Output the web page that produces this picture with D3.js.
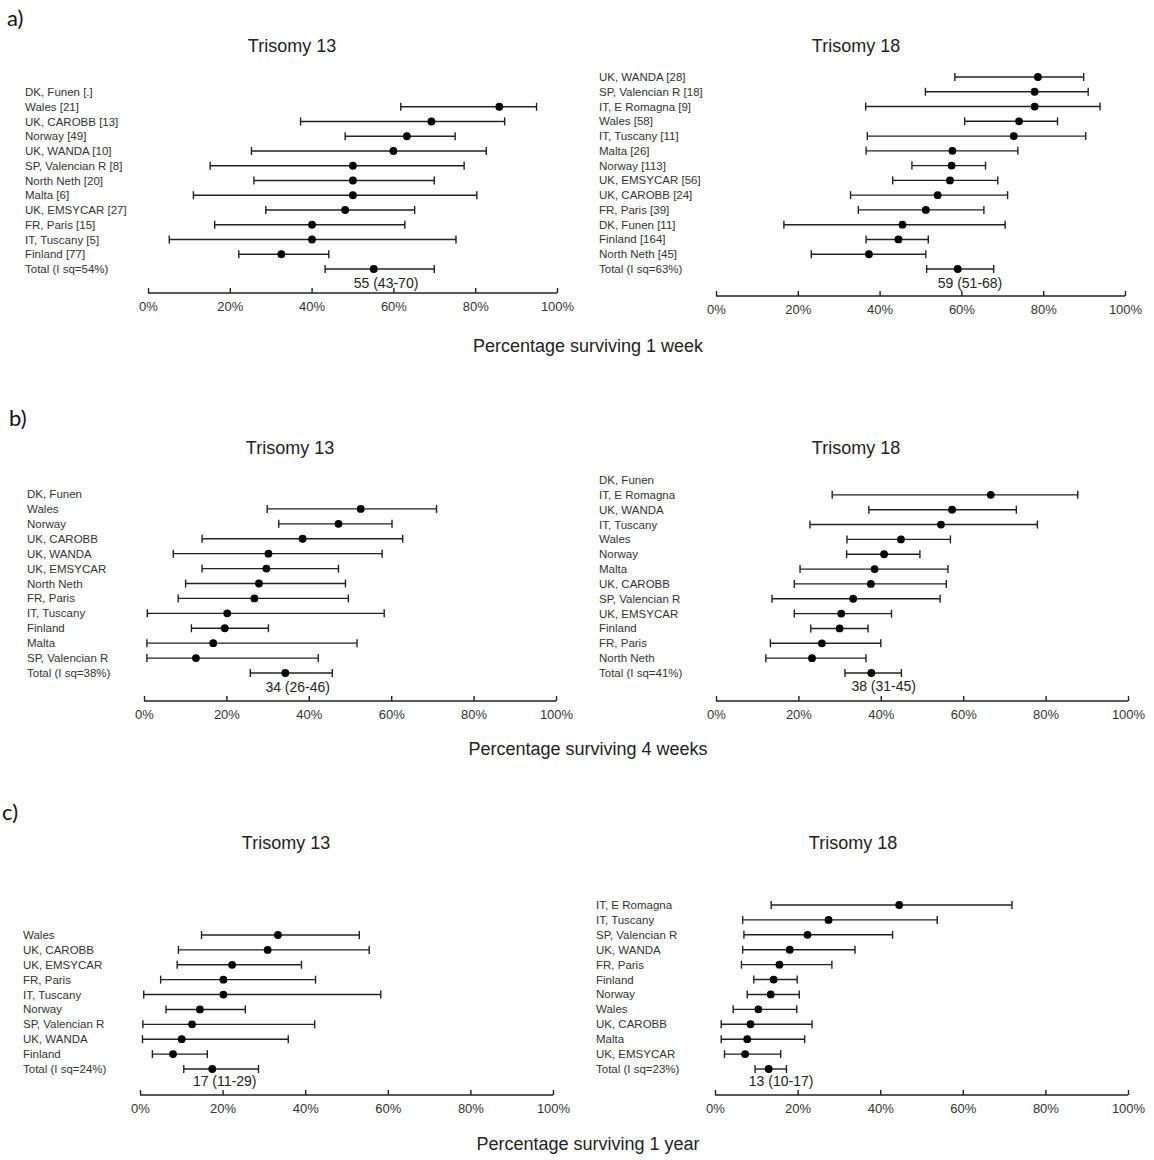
<!DOCTYPE html>
<html>
<head>
<meta charset="utf-8">
<script src="https://cdn.jsdelivr.net/npm/d3@7"></script>
<style>
  body { margin: 0; background: #fff; }
</style>
</head>
<body>
<div id="chart"></div>
<script>
// ---- data: a) surviving 1 week ----
let weekT13Labels = ['DK, Funen [.]', 'Wales [21]', 'UK, CAROBB [13]', 'Norway [49]', 'UK, WANDA [10]',
  'SP, Valencian R [8]', 'North Neth [20]', 'Malta [6]', 'UK, EMSYCAR [27]', 'FR, Paris [15]',
  'IT, Tuscany [5]', 'Finland [77]', 'Total (I sq=54%)']
let weekT13Est = [null, 85.9, 69.3, 63.3, 60.0, 50.1, 50.1, 50.1, 48.2, 40.1, 40.1, 32.6, 55.2]
let weekT13Lo = [null, 61.8, 37.3, 48.2, 25.3, 15.2, 25.9, 11.1, 28.8, 16.3, 5.2, 22.2, 43.3]
let weekT13Hi = [null, 95.0, 87.2, 75.1, 82.7, 77.3, 70.0, 80.4, 65.2, 62.8, 75.3, 44.2, 70.0]

let weekT18Labels = ['UK, WANDA [28]', 'SP, Valencian R [18]', 'IT, E Romagna [9]', 'Wales [58]',
  'IT, Tuscany [11]', 'Malta [26]', 'Norway [113]', 'UK, EMSYCAR [56]', 'UK, CAROBB [24]',
  'FR, Paris [39]', 'DK, Funen [11]', 'Finland [164]', 'North Neth [45]', 'Total (I sq=63%)']
let weekT18Est = [78.7, 77.9, 77.9, 74.1, 72.8, 57.8, 57.6, 57.2, 54.2, 51.3, 45.6, 44.6, 37.4, 59.1]
let weekT18Lo = [58.4, 51.2, 36.6, 60.8, 37.0, 36.7, 47.9, 43.2, 32.9, 34.8, 16.6, 36.7, 23.3, 51.5]
let weekT18Hi = [89.9, 91.0, 93.9, 83.5, 90.4, 73.8, 65.9, 68.9, 71.3, 65.5, 70.7, 51.9, 51.3, 67.9]

// ---- data: b) surviving 4 weeks ----
let monthT13Labels = ['DK, Funen', 'Wales', 'Norway', 'UK, CAROBB', 'UK, WANDA', 'UK, EMSYCAR',
  'North Neth', 'FR, Paris', 'IT, Tuscany', 'Finland', 'Malta', 'SP, Valencian R', 'Total (I sq=38%)']
let monthT13Est = [null, 52.6, 47.2, 38.5, 30.2, 29.7, 27.9, 26.8, 20.2, 19.6, 16.8, 12.6, 34.3]
let monthT13Lo = [null, 29.9, 32.7, 14.1, 7.1, 14.1, 10.1, 8.3, 0.8, 11.5, 0.7, 0.7, 25.8]
let monthT13Hi = [null, 71.0, 60.2, 62.8, 57.8, 47.2, 48.9, 49.6, 58.3, 30.2, 51.7, 42.3, 45.7]

let monthT18Labels = ['DK, Funen', 'IT, E Romagna', 'UK, WANDA', 'IT, Tuscany', 'Wales', 'Norway',
  'Malta', 'UK, CAROBB', 'SP, Valencian R', 'UK, EMSYCAR', 'Finland', 'FR, Paris', 'North Neth',
  'Total (I sq=41%)']
let monthT18Est = [null, 66.7, 57.3, 54.6, 44.9, 40.8, 38.5, 37.6, 33.3, 30.4, 30.0, 25.7, 23.3, 37.7]
let monthT18Lo = [null, 28.2, 37.1, 22.8, 31.8, 31.7, 20.4, 19.0, 13.6, 19.0, 23.0, 13.2, 12.1, 31.3]
let monthT18Hi = [null, 87.8, 72.9, 78.0, 56.9, 49.5, 56.3, 55.9, 54.4, 42.6, 36.9, 40.0, 36.4, 45.0]

// ---- data: c) surviving 1 year ----
let yearT13Labels = ['Wales', 'UK, CAROBB', 'UK, EMSYCAR', 'FR, Paris', 'IT, Tuscany', 'Norway',
  'SP, Valencian R', 'UK, WANDA', 'Finland', 'Total (I sq=24%)']
let yearT13Est = [33.4, 30.9, 22.3, 20.2, 20.2, 14.5, 12.6, 10.1, 8.0, 17.5]
let yearT13Lo = [14.9, 9.3, 9.0, 5.0, 0.9, 6.3, 0.7, 0.6, 3.0, 10.6]
let yearT13Hi = [53.1, 55.5, 39.1, 42.5, 58.3, 25.5, 42.3, 35.9, 16.3, 28.7]

let yearT18Labels = ['IT, E Romagna', 'IT, Tuscany', 'SP, Valencian R', 'UK, WANDA', 'FR, Paris',
  'Finland', 'Norway', 'Wales', 'UK, CAROBB', 'Malta', 'UK, EMSYCAR', 'Total (I sq=23%)']
let yearT18Est = [44.6, 27.5, 22.4, 18.1, 15.6, 14.2, 13.5, 10.5, 8.6, 7.8, 7.3, 13.0]
let yearT18Lo = [13.6, 6.7, 7.0, 6.7, 6.4, 9.4, 7.8, 4.4, 1.5, 1.5, 2.3, 9.7]
let yearT18Hi = [71.9, 53.8, 43.0, 33.9, 28.3, 19.9, 20.4, 19.8, 23.5, 21.7, 15.9, 17.3]

let totalText = ['55 (43-70)', '59 (51-68)', '34 (26-46)', '38 (31-45)', '17 (11-29)', '13 (10-17)']
let tickValues = [0, 20, 40, 60, 80, 100]

const FONT = "'Liberation Sans', Arial, Helvetica, sans-serif"

const svg = d3.select('#chart').append('svg')
  .attr('width', 1154)
  .attr('height', 1160)
  .style('font-family', FONT)

svg.append('rect').attr('width', 1154).attr('height', 1160).attr('fill', '#fff')

// panel letters and shared axis titles
let sections = [
  { tag: 'a)', tagX: 7, tagY: 26, axisTitle: 'Percentage surviving 1 week', axisTitleY: 352 },
  { tag: 'b)', tagX: 9, tagY: 426, axisTitle: 'Percentage surviving 4 weeks', axisTitleY: 755 },
  { tag: 'c)', tagX: 2, tagY: 820, axisTitle: 'Percentage surviving 1 year', axisTitleY: 1150 }
]

sections.forEach((s) => {
  svg.append('text')
    .attr('x', s.tagX)
    .attr('y', s.tagY)
    .style('font-family', "Lato, 'Open Sans', sans-serif")
    .style('font-size', '22px')
    .style('fill', '#111')
    .text(s.tag)

  svg.append('text')
    .attr('x', 588)
    .attr('y', s.axisTitleY)
    .attr('text-anchor', 'middle')
    .style('font-family', FONT)
    .style('font-size', '18px')
    .style('fill', '#222')
    .text(s.axisTitle)
})

let panels = [
  { title: 'Trisomy 13', labels: weekT13Labels, est: weekT13Est, lo: weekT13Lo, hi: weekT13Hi, note: totalText[0],
    titleX: 292, titleY: 52, labelX: 25, rowTop: 92, rowBottom: 269, x0: 148, x1: 557, axisY: 293, noteY: 288 },
  { title: 'Trisomy 18', labels: weekT18Labels, est: weekT18Est, lo: weekT18Lo, hi: weekT18Hi, note: totalText[1],
    titleX: 856, titleY: 52, labelX: 599, rowTop: 77, rowBottom: 269, x0: 716, x1: 1125, axisY: 296, noteY: 288 },
  { title: 'Trisomy 13', labels: monthT13Labels, est: monthT13Est, lo: monthT13Lo, hi: monthT13Hi, note: totalText[2],
    titleX: 290, titleY: 454, labelX: 27, rowTop: 494, rowBottom: 673, x0: 144, x1: 556, axisY: 701, noteY: 692 },
  { title: 'Trisomy 18', labels: monthT18Labels, est: monthT18Est, lo: monthT18Lo, hi: monthT18Hi, note: totalText[3],
    titleX: 856, titleY: 454, labelX: 599, rowTop: 480, rowBottom: 673, x0: 716, x1: 1128, axisY: 701, noteY: 691 },
  { title: 'Trisomy 13', labels: yearT13Labels, est: yearT13Est, lo: yearT13Lo, hi: yearT13Hi, note: totalText[4],
    titleX: 286, titleY: 849, labelX: 23, rowTop: 935, rowBottom: 1069, x0: 140, x1: 553, axisY: 1095, noteY: 1086 },
  { title: 'Trisomy 18', labels: yearT18Labels, est: yearT18Est, lo: yearT18Lo, hi: yearT18Hi, note: totalText[5],
    titleX: 853, titleY: 849, labelX: 596, rowTop: 905, rowBottom: 1069, x0: 715, x1: 1128, axisY: 1095, noteY: 1086 }
]

panels.forEach(drawForest)

function drawForest (p) {
  let g = svg.append('g')
  let n = p.labels.length

  let x = d3.scaleLinear().domain([0, 100]).range([p.x0, p.x1])
  let y = d3.scaleLinear().domain([0, n - 1]).range([p.rowTop, p.rowBottom])

  g.append('text')
    .attr('x', p.titleX)
    .attr('y', p.titleY)
    .attr('text-anchor', 'middle')
    .style('font-family', FONT)
    .style('font-size', '18px')
    .style('fill', '#222')
    .text(p.title)

  // row labels
  g.selectAll('.row-label')
    .data(p.labels)
    .enter().append('text')
    .attr('class', 'row-label')
    .attr('x', p.labelX)
    .attr('y', (d, i) => y(i))
    .attr('dy', '0.35em')
    .style('font-family', FONT)
    .style('font-size', '11.5px')
    .style('fill', '#333')
    .text((d) => d)

  let rows = p.labels.map((d, i) => ({ i: i, est: p.est[i], lo: p.lo[i], hi: p.hi[i] }))
    .filter((d) => d.est !== null)

  let ci = g.selectAll('.ci')
    .data(rows)
    .enter().append('g')
    .attr('class', 'ci')
    .attr('transform', (d) => 'translate(0,' + y(d.i) + ')')

  ci.append('line')
    .attr('x1', (d) => x(d.lo))
    .attr('x2', (d) => x(d.hi))
    .attr('stroke', '#222')
    .attr('stroke-width', 1.4)

  ci.append('line')
    .attr('x1', (d) => x(d.lo))
    .attr('x2', (d) => x(d.lo))
    .attr('y1', -4).attr('y2', 4)
    .attr('stroke', '#222')
    .attr('stroke-width', 1.4)

  ci.append('line')
    .attr('x1', (d) => x(d.hi))
    .attr('x2', (d) => x(d.hi))
    .attr('y1', -4).attr('y2', 4)
    .attr('stroke', '#222')
    .attr('stroke-width', 1.4)

  ci.append('circle')
    .attr('cx', (d) => x(d.est))
    .attr('r', 3.9)
    .attr('fill', '#000')

  // pooled estimate text under total row
  let total = rows[rows.length - 1]
  g.append('text')
    .attr('x', x(total.est + 3))
    .attr('y', p.noteY)
    .attr('text-anchor', 'middle')
    .style('font-family', FONT)
    .style('font-size', '14px')
    .style('fill', '#222')
    .text(p.note)

  // bottom axis with ticks pointing up
  let axis = d3.axisTop(x)
    .tickValues(tickValues)
    .tickSize(5)
    .tickFormat((d) => d + '%')

  let ax = g.append('g')
    .attr('transform', 'translate(0,' + p.axisY + ')')
    .call(axis)

  ax.select('.domain').attr('d', 'M' + p.x0 + ',0H' + p.x1).attr('stroke', '#222').attr('stroke-width', 1.4)
  ax.selectAll('.tick line').attr('stroke', '#222').attr('stroke-width', 1.4)
  ax.selectAll('.tick text')
    .attr('y', 18)
    .attr('dy', 0)
    .style('font-size', '13px')
    .style('font-family', FONT)
    .style('fill', '#333')
}
</script>
</body>
</html>
